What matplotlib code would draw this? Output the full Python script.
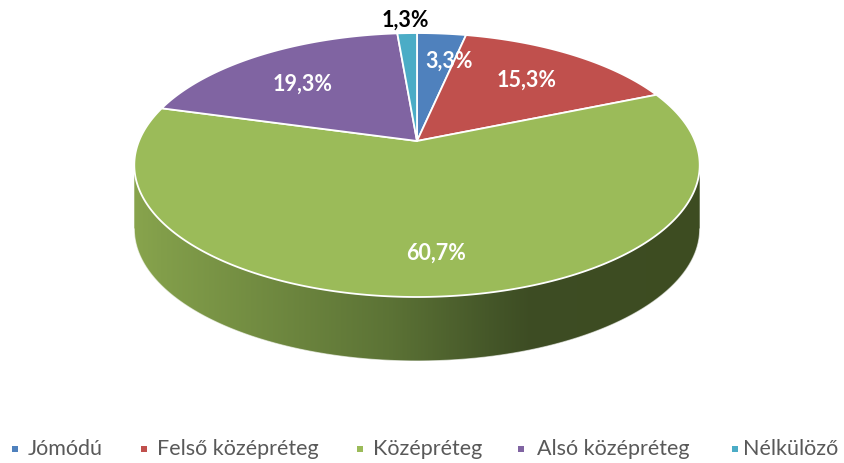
import numpy as np
import matplotlib.pyplot as plt
from matplotlib.patches import Polygon

categories = ['Jómódú', 'Felső középréteg', 'Középréteg', 'Alsó középréteg', 'Nélkülöző']
counts = [5, 23, 91, 29, 2]
colors = ['#4f81bd', '#c0504d', '#9bbb59', '#8064a2', '#4bacc6']
label_colors = ['white', 'white', 'white', 'white', 'black']

# layout (pixel coords)
label_xy = [(449, 61), (527, 80), (436, 253), (303, 84), (405, 20)]
legend_mx = [14.5, 144, 360, 521, 735]
legend_tx = [28, 157, 373, 537, 743]
cx, cy = 417, 141      # apex of the slices
a, b, k = 278, 127.6, 0.182   # perspective ellipse
depth = 64

plt.rcParams['font.family'] = ['Lato', 'DejaVu Sans']

fig = plt.figure(figsize=(8.44, 4.63), dpi=100)
ax = fig.add_axes([0, 0, 1, 1])
ax.set_xlim(0, 844)
ax.set_ylim(463, 0)
ax.axis('off')


def proj(theta, dy=0.0):
    u = np.sin(theta)
    v = np.cos(theta)
    d = 1 + k * v
    return cx + a * u / d, cy - b * v / d + dy


# side wall (front part, only the big slice shows it)
thR = np.arccos(-k)
thL = 2 * np.pi - thR
t = np.linspace(thR, thL, 200)
xt, yt = proj(t)
xb, yb = proj(t[::-1], depth)
side = Polygon(np.column_stack([np.r_[xt, xb], np.r_[yt, yb]]),
               facecolor='none', edgecolor='none')
ax.add_patch(side)
grad_x = [137, 160, 390, 490, 530, 705]
grad_c = np.array([[0.53, 0.64, 0.30], [0.51, 0.62, 0.29], [0.36, 0.45, 0.21],
                   [0.27, 0.34, 0.16], [0.24, 0.30, 0.14], [0.24, 0.30, 0.13]])
xs = np.linspace(130, 710, 300)
img = np.stack([np.interp(xs, grad_x, grad_c[:, i]) for i in range(3)], axis=-1)[None, :, :]
im = ax.imshow(img, extent=[130, 710, 370, 100], aspect='auto', zorder=1)
im.set_clip_path(side)
ax.plot(xb, yb, color='white', lw=0.8, alpha=0.6, zorder=2)

# top face
fracs = np.array(counts) / sum(counts)
start = 0.0
for frac, col in zip(fracs, colors):
    end = start + frac * 2 * np.pi
    tt = np.linspace(start, end, max(int(frac * 400), 4))
    px, py = proj(tt)
    poly = Polygon(np.column_stack([np.r_[cx, px], np.r_[cy, py]]),
                   facecolor=col, edgecolor='white', lw=1.3, zorder=3,
                   joinstyle='round')
    ax.add_patch(poly)
    start = end

# labels
for frac, (lx, ly), lc in zip(fracs, label_xy, label_colors):
    ax.text(lx, ly, f'{frac * 100:.1f}%'.replace('.', ','), color=lc,
            fontsize=15.5, fontweight='bold', ha='center', va='center', zorder=5)

# legend
for mx, tx, name, col in zip(legend_mx, legend_tx, categories, colors):
    ax.scatter([mx], [449], marker='s', s=22, color=col, linewidths=0, zorder=5)
    ax.text(tx, 449, name, fontsize=15.5, color='#595959',
            ha='left', va='center')

fig.savefig('out.png', dpi=100)
